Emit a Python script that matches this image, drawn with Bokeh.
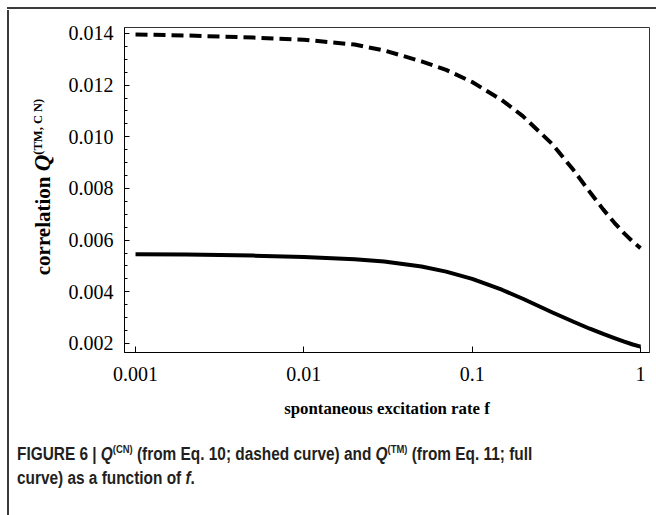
from bokeh.plotting import figure
from bokeh.models import (Range1d, FixedTicker, SingleIntervalTicker, PrintfTickFormatter,
                          CustomJSTickFormatter, Div)
from bokeh.layouts import column, row
from bokeh.embed import file_html
from bokeh.resources import INLINE

# ---------------- data ----------------
f_rate = [0.001, 0.002, 0.005, 0.01, 0.02, 0.03, 0.05, 0.07, 0.1, 0.15, 0.2,
          0.3, 0.4, 0.5, 0.6, 0.7, 0.8, 0.9, 1.0]
q_cn = [0.01396, 0.01392, 0.01384, 0.01376, 0.01357, 0.01334, 0.01292, 0.01259,
        0.01212, 0.01142, 0.01080, 0.00971, 0.00871, 0.00786, 0.00719, 0.00667,
        0.00626, 0.00594, 0.00569]
q_tm = [0.00545, 0.00544, 0.00540, 0.00535, 0.00526, 0.00517, 0.00498, 0.00478,
        0.00450, 0.00408, 0.00373, 0.00320, 0.00284, 0.00257, 0.00237, 0.00221,
        0.00207, 0.00196, 0.00188]
x_ticks = [0.001, 0.01, 0.1, 1]
y_tick_step = 0.002
x_label = "spontaneous excitation rate f"
y_label_html = ('correlation <i style="font-size:23px">Q</i>'
                '<sup style="font-size:12.5px;line-height:0;vertical-align:8px">(TM, C N)</sup>')
caption_html = ("FIGURE 6 | <i>Q</i><sup>(CN)</sup> (from Eq. 10; dashed curve) and "
                "<i>Q</i><sup>(TM)</sup> (from Eq. 11; full<br>curve) as a function of <i>f</i>.")

# ---------------- ranges ----------------
X_START, X_END = 0.00086, 1.131
Y_START, Y_END = 0.00165, 0.01423

# ---------------- layout sizes (page origin is 0,0) ----------------
PAGE_W, PAGE_H = 656, 515
TOP_H = 10            # holds the top rule
YLAB_W = 54           # holds the left rule and the y title
FIG_W, FIG_H = PAGE_W - YLAB_W, 420
CAP_H = PAGE_H - TOP_H - FIG_H
RULE = "#3a3a3a"

p = figure(width=FIG_W, height=FIG_H, x_axis_type="log",
           x_range=Range1d(X_START, X_END), y_range=Range1d(Y_START, Y_END),
           output_backend="svg", toolbar_location=None,
           min_border_left=70, min_border_right=7, min_border_top=17,
           min_border_bottom=78, margin=0)
p.grid.visible = False
p.outline_line_color = "#333333"
p.outline_line_width = 1
p.background_fill_color = "white"
p.border_fill_color = "white"

p.line(f_rate, q_cn, line_color="black", line_width=4, line_dash="12 6")
p.line(f_rate, q_tm, line_color="black", line_width=4)

serif = "Liberation Serif"
xa = p.xaxis[0]
xa.ticker = FixedTicker(ticks=x_ticks, minor_ticks=[])
xa.formatter = CustomJSTickFormatter(code="return tick.toString();")
xa.major_tick_in = 6
xa.major_tick_out = 0
xa.minor_tick_line_color = None
xa.major_label_standoff = 14
xa.major_label_text_font = serif
xa.major_label_text_font_size = "20px"
xa.major_label_text_color = "black"
xa.axis_line_color = "black"
xa.major_tick_line_color = "black"
xa.axis_label = x_label
xa.axis_label_text_font = serif
xa.axis_label_text_font_style = "bold"
xa.axis_label_text_font_size = "16.8px"
xa.axis_label_text_color = "black"
xa.axis_label_standoff = 15

ya = p.yaxis[0]
ya.ticker = SingleIntervalTicker(interval=y_tick_step, num_minor_ticks=4)
ya.formatter = PrintfTickFormatter(format="%.3f")
ya.major_tick_in = 5
ya.major_tick_out = 0
ya.minor_tick_in = 3
ya.minor_tick_out = 0
ya.major_label_standoff = 11
ya.major_label_text_font = serif
ya.major_label_text_font_size = "20px"
ya.major_label_text_color = "black"
ya.axis_line_color = "black"
ya.major_tick_line_color = "black"
ya.minor_tick_line_color = "black"

no_pad = {"margin": "0", "padding": "0"}

# top rule of the figure box
top = Div(text=(f'<div style="position:relative;width:{PAGE_W}px;height:{TOP_H}px;">'
                f'<div style="position:absolute;left:7px;top:5px;width:{PAGE_W - 7}px;'
                f'height:2px;background:{RULE};"></div></div>'),
          width=PAGE_W, height=TOP_H, margin=0, styles=no_pad)

# left rule + rotated y-axis title (real HTML text with superscript)
ylab = Div(text=(f'<div style="position:relative;width:{YLAB_W}px;height:{FIG_H}px;">'
                 f'<div style="position:absolute;left:7px;top:0;width:2px;height:{FIG_H}px;'
                 f'background:{RULE};"></div>'
                 f'<div style="position:absolute;left:43px;top:177px;'
                 f'transform:translate(-50%,-50%) rotate(-90deg);white-space:nowrap;'
                 f'font-family:\'Liberation Serif\';font-weight:bold;font-size:21px;'
                 f'line-height:22px;color:black;">{y_label_html}</div></div>'),
           width=YLAB_W, height=FIG_H, margin=0, styles=no_pad)

# left rule + caption
sup_css = "font-size:11px;line-height:0;vertical-align:7px;"
cap = caption_html.replace("<sup>", f'<sup style="{sup_css}">')
caption = Div(text=(f'<div style="position:relative;width:{PAGE_W}px;height:{CAP_H}px;">'
                    f'<div style="position:absolute;left:7px;top:0;width:2px;height:{CAP_H}px;'
                    f'background:{RULE};"></div>'
                    f'<div style="position:absolute;left:17px;top:12px;white-space:nowrap;'
                    f'transform:scaleX(0.855);transform-origin:0 0;'
                    f'font-family:\'Liberation Sans\',sans-serif;font-weight:bold;'
                    f'font-size:18px;line-height:24px;color:#231f20;">{cap}</div></div>'),
              width=PAGE_W, height=CAP_H, margin=0, styles=no_pad)

layout = column(top, row(ylab, p, margin=0, spacing=0), caption, margin=0, spacing=0)

open("out.html", "w").write(file_html(layout, INLINE))
